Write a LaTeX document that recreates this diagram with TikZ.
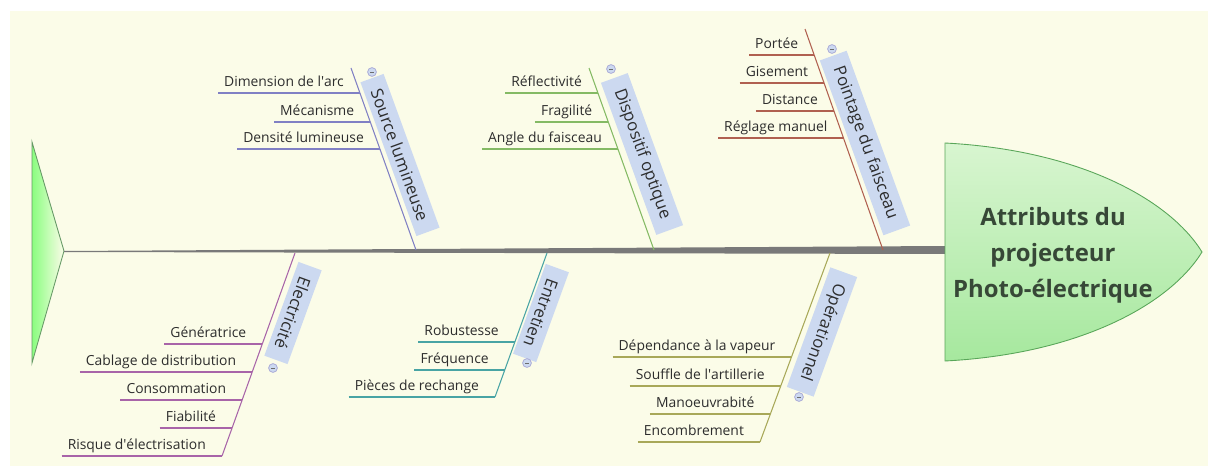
\documentclass[tikz,border=0pt]{standalone}
\usepackage{fontspec}
\setmainfont{Open Sans}
\usetikzlibrary{calc}
\definecolor{paper}{RGB}{251,252,232}
\definecolor{ink}{RGB}{45,45,45}
\definecolor{titleink}{RGB}{55,72,55}
\definecolor{catfill}{RGB}{204,217,240}
\definecolor{src}{RGB}{128,128,196}
\definecolor{opt}{RGB}{132,186,100}
\definecolor{pnt}{RGB}{176,96,80}
\definecolor{elec}{RGB}{168,100,168}
\definecolor{ent}{RGB}{72,164,164}
\definecolor{ope}{RGB}{168,168,88}

\begin{document}
\begin{tikzpicture}[x=0.02cm, y=-0.02cm,
    item/.style={font=\fontsize{7.9}{9}\selectfont, text=ink, inner xsep=1pt,
                 inner ysep=1pt, text depth=0.25em, anchor=south east},
    cat/.style={font=\fontsize{9.5}{11}\selectfont, text=ink, fill=catfill,
                inner xsep=7pt, minimum height=14pt},
    knob/.style={circle, draw=src!70, fill=catfill, minimum size=5pt, inner sep=0pt,
                 path picture={\draw[ink!70, line width=0.4pt]
                   ($(path picture bounding box.west)!0.3!(path picture bounding box.east)$) --
                   ($(path picture bounding box.west)!0.7!(path picture bounding box.east)$);}},
    bone/.style={line width=0.6pt}]
\useasboundingbox (0,0) rectangle (1208,466);
\fill[white] (0,0) rectangle (1208,466);
\fill[paper] (10,11) rectangle (1208,466);

% tail, spine and head
\coordinate (tailtip) at (64,251);
\coordinate (headL) at (945,250);
\draw[gray!80!green, line width=0.5pt, left color=green!45!paper, right color=paper]
  (32,142) -- (tailtip) -- (32,363) -- cycle;
\fill[gray!95!black] (tailtip) -- ($(headL)+(0,-4)$) -- ($(headL)+(0,4)$) -- ($(tailtip)+(0,1)$) -- cycle;
\draw[green!30!gray, line width=0.5pt, top color={rgb,255:red,216;green,245;blue,208},
      bottom color={rgb,255:red,166;green,232;blue,158}]
  (945,143) .. controls (1080,150) and (1170,200) .. (1202,252)
  .. controls (1170,304) and (1080,354) .. (945,361) -- cycle;
\node[font=\bfseries\fontsize{13.6}{20.5}\selectfont, text=titleink, align=center] (title)
  at (1053,255) {Attributs du\\projecteur\\Photo-électrique};

% bones
\coordinate (srcT) at (351,68);  \coordinate (srcB) at (416,250);
\coordinate (optT) at (589,68);  \coordinate (optB) at (654,250);
\coordinate (pntT) at (805,29);  \coordinate (pntB) at (883,250);
\coordinate (elecT) at (295,253); \coordinate (elecB) at (222,456);
\coordinate (entT) at (547,253);  \coordinate (entB) at (495,397);
\coordinate (opeT) at (830,253);  \coordinate (opeB) at (760,442);
\foreach \br in {src,opt,pnt,elec,ent,ope}
  \draw[bone, \br] (\br T) -- (\br B);

% causes
\node[cat, rotate=-70] (srcL) at (400,155) {Source lumineuse};
\node[cat, rotate=-70] (optL) at (642,154) {Dispositif optique};
\node[cat, rotate=-70] (pntL) at (865,143) {Pointage du faisceau};
\node[cat, rotate=-110] (elecL) at (293,313) {Electricité};
\node[cat, rotate=-110] (entL) at (541,313) {Entretien};
\node[cat, rotate=-110] (opeL) at (822,332) {Opérationnel};
\node[knob] (srcK) at (372,72) {};
\node[knob] (optK) at (611,69) {};
\node[knob] (pntK) at (832,49) {};
\node[knob] (elecK) at (273,368) {};
\node[knob] (entK) at (527,363) {};
\node[knob] (opeK) at (799,397) {};

% sub causes
\foreach \br/\items in {
    src/{93/Dimension de l\textquotesingle arc,122/Mécanisme,149/Densité lumineuse},
    opt/{93/Réflectivité,122/Fragilité,149/Angle du faisceau},
    pnt/{55/Portée,83/Gisement,111/Distance,138/Réglage manuel},
    elec/{344/Génératrice,372/Cablage de distribution,400/Consommation,428/Fiabilité,456/Risque d\textquotesingle électrisation},
    ent/{342/Robustesse,370/Fréquence,397/Pièces de rechange},
    ope/{357/Dépendance à la vapeur,386/Souffle de l\textquotesingle artillerie,414/Manoeuvrabité,442/Encombrement}}
  \foreach \y/\txt [count=\i] in \items {
    \coordinate (\br p\i) at (intersection of \br T--\br B and 0,\y--1,\y);
    \node[item] (\br\i) at ($(\br p\i)+(-14,0)$) {\txt};
    \draw[bone, \br] ($(\br\i.south west)+(-4,0)$) -- (\br p\i);
  }
\end{tikzpicture}
\end{document}
